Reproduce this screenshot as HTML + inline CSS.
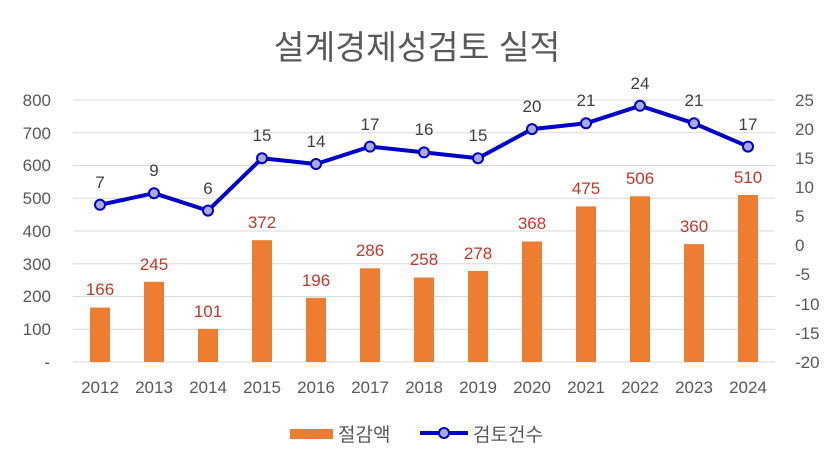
<!DOCTYPE html>
<html><head><meta charset="utf-8"><style>body{margin:0;background:#fff}svg{display:block}text{font-family:"Liberation Sans","Noto Sans CJK KR",sans-serif}</style></head><body>
<svg width="835" height="466" viewBox="0 0 835 466" xmlns="http://www.w3.org/2000/svg">
<rect width="835" height="466" fill="#fff"/>
<text x="417" y="59" font-size="33.5" fill="#595959" text-anchor="middle">설계경제성검토 실적</text>
<g stroke="#d9d9d9" stroke-width="1">
<line x1="73" y1="100" x2="775" y2="100"/><line x1="73" y1="132.75" x2="775" y2="132.75"/><line x1="73" y1="165.5" x2="775" y2="165.5"/><line x1="73" y1="198.25" x2="775" y2="198.25"/><line x1="73" y1="231" x2="775" y2="231"/><line x1="73" y1="263.75" x2="775" y2="263.75"/><line x1="73" y1="296.5" x2="775" y2="296.5"/><line x1="73" y1="329.25" x2="775" y2="329.25"/><line x1="73" y1="362" x2="775" y2="362"/>
</g>
<g font-size="17" fill="#595959" text-anchor="end">
<text x="51" y="106">800</text><text x="51" y="139">700</text><text x="51" y="171">600</text><text x="51" y="204">500</text><text x="51" y="237">400</text><text x="51" y="270">300</text><text x="51" y="302">200</text><text x="51" y="335">100</text><text x="50" y="368">-</text>
</g>
<g font-size="17" fill="#595959" text-anchor="start">
<text x="795" y="106">25</text><text x="795" y="135">20</text><text x="795" y="164">15</text><text x="795" y="193">10</text><text x="795" y="222">5</text><text x="795" y="251">0</text><text x="795" y="280">-5</text><text x="795" y="310">-10</text><text x="795" y="339">-15</text><text x="795" y="368">-20</text>
</g>
<g fill="#ed7d31">
<rect x="90" y="307.6" width="20" height="54.4"/>
<rect x="144" y="281.8" width="20" height="80.2"/>
<rect x="198" y="328.9" width="20" height="33.1"/>
<rect x="252" y="240.2" width="20" height="121.8"/>
<rect x="306" y="297.8" width="20" height="64.2"/>
<rect x="360" y="268.3" width="20" height="93.7"/>
<rect x="414" y="277.5" width="20" height="84.5"/>
<rect x="468" y="271.0" width="20" height="91"/>
<rect x="522" y="241.5" width="20" height="120.5"/>
<rect x="576" y="206.4" width="20" height="155.6"/>
<rect x="630" y="196.3" width="20" height="165.7"/>
<rect x="684" y="244.1" width="20" height="117.9"/>
<rect x="738" y="195.0" width="20" height="167"/>
</g>
<g font-size="17" fill="#c0392b" text-anchor="middle">
<text x="100" y="295">166</text><text x="154" y="270">245</text><text x="208" y="317">101</text><text x="262" y="228">372</text><text x="316" y="286">196</text><text x="370" y="256">286</text><text x="424" y="265">258</text><text x="478" y="259">278</text><text x="532" y="229">368</text><text x="586" y="194">475</text><text x="640" y="184">506</text><text x="694" y="232">360</text><text x="748" y="183">510</text>
</g>
<g font-size="17" fill="#595959" text-anchor="middle">
<text x="100" y="393">2012</text><text x="154" y="393">2013</text><text x="208" y="393">2014</text><text x="262" y="393">2015</text><text x="316" y="393">2016</text><text x="370" y="393">2017</text><text x="424" y="393">2018</text><text x="478" y="393">2019</text><text x="532" y="393">2020</text><text x="586" y="393">2021</text><text x="640" y="393">2022</text><text x="694" y="393">2023</text><text x="748" y="393">2024</text>
</g>
<polyline points="100,204.8 154,193.2 208,210.6 262,158.2 316,164 370,146.6 424,152.4 478,158.2 532,129.1 586,123.3 640,105.8 694,123.3 748,146.6" fill="none" stroke="#0000c8" stroke-width="4" stroke-linejoin="round"/>
<g fill="#aaaadd" stroke="#0000c8" stroke-width="2">
<circle cx="100" cy="204.8" r="5"/><circle cx="154" cy="193.2" r="5"/><circle cx="208" cy="210.6" r="5"/><circle cx="262" cy="158.2" r="5"/><circle cx="316" cy="164" r="5"/><circle cx="370" cy="146.6" r="5"/><circle cx="424" cy="152.4" r="5"/><circle cx="478" cy="158.2" r="5"/><circle cx="532" cy="129.1" r="5"/><circle cx="586" cy="123.3" r="5"/><circle cx="640" cy="105.8" r="5"/><circle cx="694" cy="123.3" r="5"/><circle cx="748" cy="146.6" r="5"/>
</g>
<g font-size="17" fill="#404040" text-anchor="middle">
<text x="100" y="188">7</text><text x="154" y="176">9</text><text x="208" y="194">6</text><text x="262" y="141">15</text><text x="316" y="147">14</text><text x="370" y="130">17</text><text x="424" y="135">16</text><text x="478" y="141">15</text><text x="532" y="112">20</text><text x="586" y="106">21</text><text x="640" y="89">24</text><text x="694" y="106">21</text><text x="748" y="130">17</text>
</g>
<rect x="290" y="429" width="43" height="10" fill="#ed7d31"/>
<text x="338" y="441" font-size="19" fill="#595959">절감액</text>
<line x1="420" y1="433" x2="468" y2="433" stroke="#0000c8" stroke-width="4"/>
<circle cx="444" cy="433" r="5" fill="#aaaadd" stroke="#0000c8" stroke-width="2"/>
<text x="473" y="441" font-size="19" fill="#595959">검토건수</text>
</svg>
</body></html>
